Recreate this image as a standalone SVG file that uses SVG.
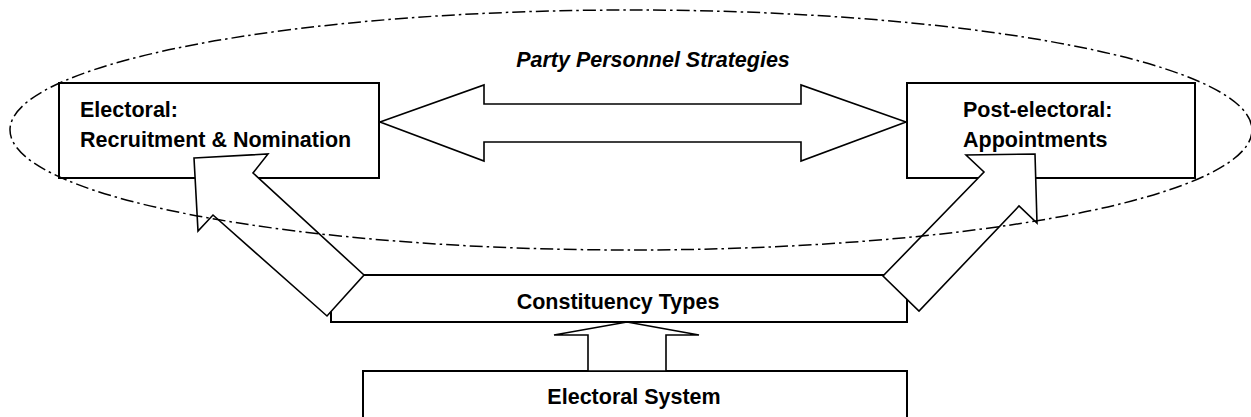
<svg xmlns="http://www.w3.org/2000/svg" width="1251" height="417" viewBox="0 0 1251 417">
<style>
.box{fill:#fff;stroke:#000;stroke-width:2}
.arrow{fill:#fff;stroke:#000;stroke-width:1.6;stroke-linejoin:miter}
.lbl{font-family:"Liberation Sans",Arial,sans-serif;font-weight:bold;font-size:21.5px;fill:#000}
.ell{fill:none;stroke:#000;stroke-width:1.5;stroke-dasharray:13 4 2.5 4}
</style>
<rect width="1251" height="417" fill="#fff"/>
<g id="electoral-recruitment">
<rect class="box" x="59" y="83" width="320" height="95"/>
<text class="lbl" x="80" y="117">Electoral:</text>
<text class="lbl" x="80" y="147">Recruitment &amp; Nomination</text>
</g>
<g id="post-electoral">
<rect class="box" x="907" y="83" width="288" height="95"/>
<text class="lbl" x="963" y="117">Post-electoral:</text>
<text class="lbl" x="963" y="147">Appointments</text>
</g>
<g id="constituency-types">
<rect class="box" x="331" y="275" width="576" height="47"/>
<text class="lbl" x="618" y="309" text-anchor="middle">Constituency Types</text>
</g>
<g id="electoral-system">
<rect class="box" x="363" y="371" width="544" height="60"/>
<text class="lbl" x="634" y="404" text-anchor="middle">Electoral System</text>
</g>
<g id="connectors">
<polygon class="arrow" points="380,122 484,85 484,104 801,104 801,85 906,122 801,161 801,142 484,142 484,161"/>
<polygon class="arrow" points="194,158 268,154 253,173 364,275 327,316 213,215 198,231"/>
<polygon class="arrow" points="1035,154 1037,223 1019,206 919,311 883,276 984,172 966,155"/>
<polygon class="arrow" points="627,322 699,335 666,335 666,371 588,371 588,335 554,335"/>
</g>
<g id="party-personnel-strategies">
<ellipse class="ell" cx="631" cy="130" rx="621" ry="120"/>
<text class="lbl" x="653" y="67" text-anchor="middle" font-style="italic">Party Personnel Strategies</text>
</g>
</svg>
